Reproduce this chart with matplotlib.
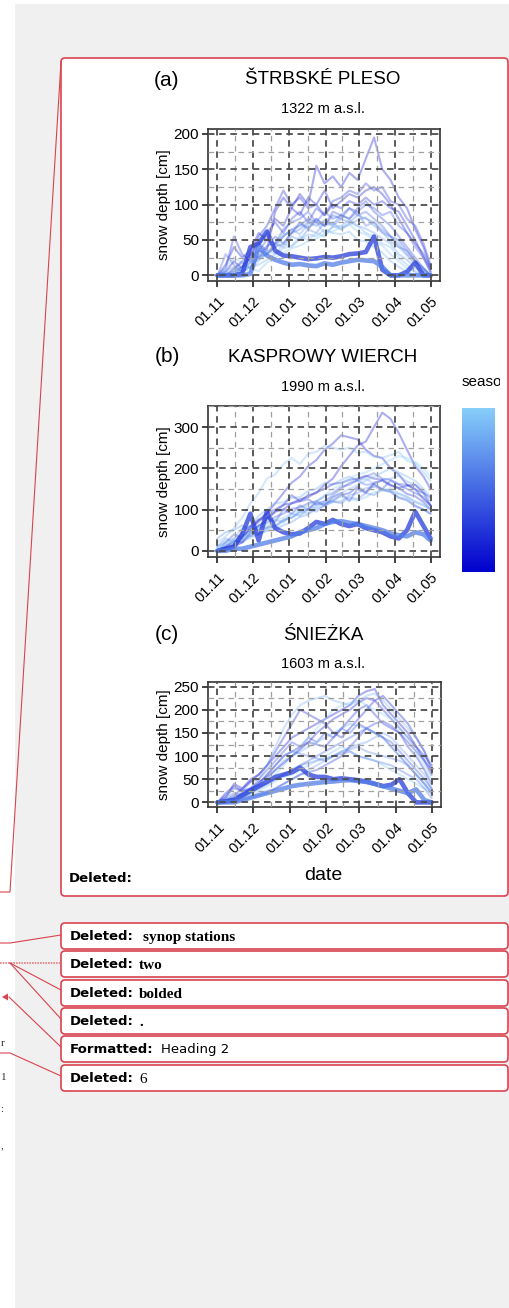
import matplotlib
matplotlib.use('Agg')
import matplotlib.pyplot as plt
from matplotlib.colors import LinearSegmentedColormap, Normalize
from matplotlib.cm import ScalarMappable
from matplotlib.patches import FancyBboxPatch, Rectangle, Polygon
from matplotlib.transforms import Bbox, TransformedBbox
from matplotlib.ticker import MultipleLocator, FixedLocator

plt.rcParams['font.family'] = ['Liberation Sans', 'DejaVu Sans']

# days counted from 1 November
DAYS = [0, 7, 14, 21, 28, 35, 42, 49, 56, 63, 70, 77, 84, 91, 98, 105, 112,
        119, 126, 133, 140, 147, 154, 161, 168, 175, 181]
MONTH_DAYS = [0, 30, 61, 92, 120, 151, 181]
MONTH_LABELS = ['01.11', '01.12', '01.01', '01.02', '01.03', '01.04', '01.05']

STATIONS = ['ŠTRBSKÉ PLESO', 'KASPROWY WIERCH', 'ŚNIEŻKA']
ALTITUDES = ['1322 m a.s.l.', '1990 m a.s.l.', '1603 m a.s.l.']
TAGS = ['(a)', '(b)', '(c)']

# (a) Štrbské Pleso
SEASONS_A = [2001, 2003, 2005, 2008, 2009, 2011, 2014, 2015, 2017, 2019,
             2002, 2007, 2013, 2018]
DEPTH_A = [
    [0, 5, 20, 10, 30, 45, 35, 90, 110, 95, 115, 100, 155, 130, 140, 125, 145, 135, 165, 195, 150, 135, 110, 95, 65, 40, 10],
    [0, 0, 5, 12, 25, 55, 70, 95, 120, 100, 110, 95, 100, 85, 100, 95, 105, 100, 110, 100, 105, 95, 90, 70, 50, 25, 5],
    [0, 10, 55, 30, 20, 45, 60, 75, 60, 80, 90, 75, 95, 85, 105, 110, 120, 115, 130, 120, 125, 105, 100, 80, 70, 45, 15],
    [0, 0, 0, 12, 25, 35, 50, 45, 65, 75, 80, 90, 75, 70, 85, 80, 95, 90, 100, 95, 85, 90, 70, 60, 40, 25, 5],
    [0, 30, 15, 5, 12, 25, 30, 45, 55, 65, 70, 80, 75, 90, 80, 85, 95, 85, 90, 80, 70, 55, 50, 35, 20, 10, 0],
    [0, 0, 8, 18, 10, 28, 30, 40, 45, 60, 65, 75, 70, 78, 72, 85, 80, 90, 70, 75, 60, 55, 40, 35, 20, 8, 0],
    [0, 0, 0, 5, 18, 22, 30, 40, 55, 65, 58, 72, 80, 70, 75, 65, 72, 78, 82, 70, 62, 48, 40, 28, 15, 5, 0],
    [0, 6, 12, 5, 18, 30, 42, 45, 58, 60, 72, 68, 75, 60, 68, 70, 78, 70, 66, 60, 52, 45, 30, 22, 10, 5, 0],
    [0, 0, 0, 6, 12, 15, 22, 30, 38, 42, 50, 58, 55, 65, 60, 58, 62, 50, 48, 40, 32, 20, 12, 5, 0, 0, 0],
    [0, 10, 25, 18, 10, 6, 18, 25, 32, 38, 42, 48, 52, 58, 62, 68, 72, 62, 58, 50, 42, 30, 20, 10, 5, 0, 0],
    [0, 15, 40, 25, 35, 60, 50, 80, 70, 95, 85, 110, 100, 120, 95, 105, 115, 110, 120, 125, 115, 100, 80, 60, 45, 30, 10],
    [0, 0, 10, 20, 30, 25, 40, 55, 45, 60, 75, 65, 80, 70, 90, 85, 80, 95, 105, 90, 80, 70, 55, 40, 25, 10, 0],
    [0, 5, 0, 10, 20, 35, 30, 45, 40, 55, 50, 65, 60, 75, 70, 80, 75, 85, 80, 75, 65, 55, 45, 30, 20, 10, 0],
    [0, 0, 5, 10, 5, 20, 35, 30, 45, 40, 55, 50, 60, 55, 70, 65, 75, 70, 60, 55, 45, 40, 25, 15, 5, 0, 0],
]
BOLD_SEASONS_A = [2006, 2012]
BOLD_DEPTH_A = [
    [0, 0, 0, 2, 40, 45, 62, 35, 28, 27, 25, 23, 24, 26, 25, 27, 30, 31, 33, 55, 8, 0, 0, 5, 18, 0, 0],
    [0, 0, 0, 0, 2, 40, 28, 22, 18, 15, 16, 14, 13, 17, 15, 18, 20, 22, 21, 20, 12, 0, 0, 0, 0, 0, 0],
]

# (b) Kasprowy Wierch
SEASONS_B = [2001, 2002, 2018, 2016, 2004, 2010, 2014, 2008, 2019, 2003,
             2007, 2013, 2017, 2020]
DEPTH_B = [
    [0, 10, 25, 20, 45, 60, 75, 95, 100, 115, 120, 135, 140, 160, 175, 205, 230, 255, 265, 300, 335, 320, 285, 245, 205, 180, 150],
    [0, 8, 15, 35, 50, 75, 90, 115, 140, 165, 180, 205, 220, 245, 260, 280, 275, 270, 245, 230, 225, 200, 185, 160, 150, 125, 110],
    [20, 35, 55, 80, 115, 140, 175, 185, 210, 225, 210, 235, 240, 255, 250, 245, 250, 238, 240, 228, 225, 232, 240, 218, 212, 190, 170],
    [10, 22, 30, 55, 60, 85, 100, 115, 118, 128, 130, 145, 150, 165, 160, 172, 180, 170, 175, 162, 172, 175, 182, 168, 160, 145, 120],
    [0, 12, 20, 45, 60, 75, 80, 95, 110, 135, 120, 125, 112, 115, 122, 135, 140, 155, 142, 165, 170, 158, 152, 138, 132, 118, 100],
    [0, 0, 12, 20, 35, 40, 55, 60, 75, 80, 95, 100, 115, 120, 135, 150, 165, 170, 160, 162, 148, 142, 128, 122, 108, 100, 90],
    [30, 45, 50, 62, 48, 40, 48, 52, 62, 70, 82, 88, 102, 110, 118, 120, 135, 140, 152, 155, 148, 145, 138, 130, 118, 110, 100],
    [0, 0, 8, 22, 40, 62, 68, 82, 90, 102, 105, 115, 120, 132, 140, 155, 160, 172, 180, 188, 175, 172, 162, 160, 148, 140, 130],
    [10, 18, 20, 28, 30, 42, 50, 62, 70, 82, 90, 102, 105, 115, 120, 132, 125, 122, 130, 142, 145, 152, 140, 132, 120, 112, 100],
    [0, 5, 12, 30, 55, 70, 92, 100, 112, 115, 125, 130, 142, 150, 162, 165, 172, 175, 182, 175, 172, 160, 152, 158, 160, 140, 110],
    [0, 20, 40, 30, 60, 50, 80, 70, 100, 90, 110, 100, 120, 110, 130, 140, 120, 150, 140, 160, 150, 170, 160, 150, 140, 130, 110],
    [10, 30, 20, 40, 35, 60, 55, 75, 70, 90, 85, 100, 95, 110, 120, 115, 130, 125, 140, 135, 150, 145, 130, 125, 110, 100, 90],
    [0, 10, 30, 25, 45, 40, 60, 55, 75, 80, 95, 90, 110, 120, 130, 140, 150, 160, 170, 180, 190, 200, 190, 180, 170, 150, 130],
    [5, 15, 25, 30, 45, 55, 65, 75, 80, 90, 100, 110, 120, 135, 150, 160, 175, 185, 190, 200, 210, 220, 230, 225, 215, 200, 180],
]
BOLD_SEASONS_B = [2006, 2012]
BOLD_DEPTH_B = [
    [0, 5, 10, 40, 90, 25, 95, 55, 45, 40, 42, 55, 70, 65, 75, 65, 60, 65, 55, 50, 45, 35, 30, 50, 95, 60, 30],
    [0, 0, 5, 5, 10, 15, 20, 25, 30, 35, 45, 50, 55, 65, 70, 72, 68, 65, 60, 55, 50, 42, 38, 35, 45, 40, 25],
]

# (c) Śnieżka
SEASONS_C = [2001, 2003, 2017, 2004, 2009, 2013, 2015, 2019, 2011, 2005,
             2007, 2016, 2020, 2002]
DEPTH_C = [
    [0, 10, 40, 30, 50, 60, 80, 100, 120, 140, 150, 160, 170, 180, 190, 200, 210, 230, 240, 245, 210, 190, 170, 150, 120, 90, 60],
    [0, 5, 15, 30, 45, 60, 80, 110, 140, 170, 200, 190, 180, 170, 150, 140, 160, 180, 200, 220, 200, 180, 160, 140, 120, 100, 80],
    [0, 5, 10, 20, 30, 50, 80, 120, 160, 190, 210, 220, 225, 230, 220, 215, 210, 220, 230, 235, 220, 200, 180, 160, 140, 110, 80],
    [0, 5, 10, 20, 30, 40, 60, 80, 100, 110, 120, 130, 125, 120, 140, 160, 180, 200, 210, 190, 170, 160, 150, 120, 100, 70, 40],
    [0, 0, 5, 10, 20, 30, 40, 50, 60, 70, 80, 90, 100, 110, 120, 130, 140, 150, 160, 150, 140, 120, 100, 80, 60, 40, 20],
    [0, 5, 10, 20, 30, 35, 40, 50, 60, 70, 80, 85, 90, 95, 100, 110, 115, 120, 110, 105, 100, 95, 90, 80, 60, 40, 20],
    [0, 0, 5, 10, 15, 20, 25, 30, 40, 50, 60, 70, 80, 90, 100, 110, 120, 125, 130, 140, 150, 140, 120, 100, 80, 60, 30],
    [0, 5, 10, 15, 20, 25, 35, 45, 55, 60, 70, 80, 90, 100, 110, 120, 110, 100, 95, 90, 80, 70, 60, 50, 40, 30, 20],
    [0, 10, 20, 15, 25, 40, 60, 80, 100, 110, 105, 100, 95, 90, 100, 105, 110, 100, 95, 90, 85, 80, 70, 60, 50, 30, 10],
    [0, 0, 0, 5, 10, 15, 20, 30, 40, 50, 60, 65, 70, 80, 90, 100, 120, 140, 160, 170, 175, 165, 150, 130, 110, 90, 70],
    [0, 15, 30, 25, 45, 50, 70, 90, 110, 130, 120, 140, 130, 150, 140, 160, 150, 170, 160, 150, 140, 130, 110, 90, 70, 50, 30],
    [0, 5, 10, 15, 25, 35, 50, 70, 90, 100, 110, 120, 130, 140, 150, 160, 170, 165, 160, 150, 140, 120, 100, 80, 60, 40, 25],
    [0, 0, 5, 10, 20, 30, 40, 60, 80, 100, 120, 140, 160, 180, 200, 210, 215, 220, 210, 200, 190, 180, 160, 140, 110, 80, 50],
    [0, 20, 35, 25, 30, 45, 55, 70, 85, 100, 115, 130, 150, 165, 180, 190, 200, 215, 225, 220, 230, 210, 190, 170, 140, 110, 70],
]
BOLD_SEASONS_C = [2006, 2012]
BOLD_DEPTH_C = [
    [0, 2, 5, 15, 25, 35, 45, 55, 60, 65, 75, 60, 55, 55, 50, 52, 50, 48, 45, 40, 35, 38, 50, 20, 0, 0, 0],
    [0, 0, 0, 5, 10, 15, 20, 25, 30, 35, 38, 40, 42, 44, 45, 47, 48, 46, 44, 40, 35, 30, 25, 20, 28, 5, 0],
]

# markup pane notes
NOTE_KINDS = ['Deleted:', 'Deleted:', 'Deleted:', 'Deleted:', 'Formatted:', 'Deleted:']
NOTE_TEXTS = ['synop stations', 'two', 'bolded', '.', 'Heading 2', '6']

W, H = 510, 1308
RED = '#d9434f'

cmap = LinearSegmentedColormap.from_list('season', ['#0000cd', '#87cefa'])
norm = Normalize(2000, 2020)


def px_axes(fig, left, top, right, bottom):
    return fig.add_axes([left / W, 1 - bottom / H, (right - left) / W, (bottom - top) / H])


def draw_panel(ax, seasons, depth, bold_seasons, bold_depth, ylim, ystep):
    for s, d in zip(seasons, depth):
        ax.plot(DAYS, d, color=cmap(norm(s)), lw=1.5, alpha=0.33,
                solid_joinstyle='round', zorder=2)
    for s, d in zip(bold_seasons, bold_depth):
        ax.plot(DAYS, d, color=cmap(norm(s)), lw=3.3, alpha=0.75,
                solid_joinstyle='round', solid_capstyle='round', zorder=2.1)
    ax.set_xlim(-8, 189)
    ax.set_ylim(*ylim)
    ax.yaxis.set_major_locator(MultipleLocator(ystep))
    ax.yaxis.set_minor_locator(MultipleLocator(ystep / 2))
    mids = [(a + b) / 2 for a, b in zip(MONTH_DAYS[:-1], MONTH_DAYS[1:])]
    ax.set_xticks(MONTH_DAYS)
    ax.set_xticklabels(MONTH_LABELS, rotation=45, ha='right', va='top',
                       rotation_mode='anchor', fontsize=10.5)
    ax.xaxis.set_minor_locator(FixedLocator(mids))
    ax.tick_params(which='major', length=4.5, width=1.3, color='#333333',
                   labelsize=11, pad=2)
    ax.tick_params(axis='x', labelsize=10.5, pad=5)
    ax.tick_params(which='minor', length=0)
    ax.set_axisbelow(False)
    ax.grid(which='major', color='#4d4d4d', lw=1.3, ls=(0, (3.6, 2.6)))
    ax.grid(which='minor', color='#a0a0a0', lw=0.9, ls=(0, (4.5, 3.5)))
    for sp in ax.spines.values():
        sp.set_color('#333333')
        sp.set_linewidth(1.2)
    ax.set_ylabel('snow depth [cm]', fontsize=11, labelpad=2)


fig = plt.figure(figsize=(W / 100, H / 100), dpi=100, facecolor='white')

# word markup pane background
bg = fig.add_axes([0, 0, 1, 1], zorder=-1)
bg.set_xlim(0, W)
bg.set_ylim(H, 0)
bg.axis('off')
bg.add_patch(Rectangle((15, 4), W - 15, H - 4, color='#f0f0f0', lw=0))

bg.plot([61, 10, 0], [62, 892, 892], color=RED, lw=0.8)
bg.add_patch(FancyBboxPatch((61, 58), 447, 838, boxstyle='round,pad=0,rounding_size=4',
                            fc='white', ec=RED, lw=1.2))
bg.text(69, 879, 'Deleted:', fontsize=9.5, fontweight='bold', family='DejaVu Sans',
        va='center')

note_tops = [923, 951, 980, 1008, 1036, 1065]
note_x = [143, 139, 139, 139, 161, 139]
for i, (kind, txt) in enumerate(zip(NOTE_KINDS, NOTE_TEXTS)):
    top = note_tops[i]
    bg.add_patch(FancyBboxPatch((61, top), 447, 26, boxstyle='round,pad=0,rounding_size=4',
                                fc='white', ec=RED, lw=1.2))
    yc = top + 13.5
    bg.text(70, yc, kind, fontsize=9.5, fontweight='bold', family='DejaVu Sans', va='center')
    if kind == 'Formatted:':
        bg.text(note_x[i], yc, txt, fontsize=9.5, family='DejaVu Sans', va='center')
    elif txt == '6':
        bg.text(note_x[i], yc + 1, txt, fontsize=11, family='Liberation Serif', va='center')
    else:
        bg.text(note_x[i], yc + 1, txt, fontsize=11, fontweight='bold',
                family='Liberation Serif', va='center')

# connector lines to the notes
bg.plot([0, 10, 61], [943, 943, 935], color=RED, lw=0.8)
bg.plot([0, 61], [963, 963], color='#e07f88', lw=1.2, ls=(0, (1, 0.6)))
bg.plot([10, 61], [963, 990], color=RED, lw=0.8)
bg.plot([10, 61], [963, 1019], color=RED, lw=0.8)
bg.plot([9, 61], [997, 1047], color=RED, lw=0.8)
bg.add_patch(Polygon([[2, 997], [8, 993.5], [8, 1000.5]], closed=True, color=RED, lw=0))
bg.plot([0, 10, 61], [1053, 1053, 1076], color=RED, lw=0.8)
# fragments of the document text at the left edge
for ch, yy in zip(['r', '1', ':', ','], [1044, 1078, 1110, 1146]):
    bg.text(0.5, yy, ch, fontsize=8, family='Liberation Serif', ha='left', va='center',
            color='#333333')

# chart panels
ax_a = px_axes(fig, 208, 129, 440, 281)
draw_panel(ax_a, SEASONS_A, DEPTH_A, BOLD_SEASONS_A, BOLD_DEPTH_A, (-8, 207), 50)
ax_b = px_axes(fig, 208, 406, 440, 557)
draw_panel(ax_b, SEASONS_B, DEPTH_B, BOLD_SEASONS_B, BOLD_DEPTH_B, (-15, 351), 100)
ax_c = px_axes(fig, 208, 682, 441, 807)
draw_panel(ax_c, SEASONS_C, DEPTH_C, BOLD_SEASONS_C, BOLD_DEPTH_C, (-10, 260), 50)

for tag, name, alt, ytitle, ysub in zip(TAGS, STATIONS, ALTITUDES, [80, 357, 635], [109, 387, 664]):
    fig.text(167 / W, 1 - ytitle / H, tag, fontsize=15, ha='center', va='center')
    fig.text(323 / W, 1 - ytitle / H, name, fontsize=13.5, ha='center', va='center')
    fig.text(323 / W, 1 - ysub / H, alt, fontsize=10.5, ha='center', va='center')

fig.text(323 / W, 1 - 875 / H, 'date', fontsize=14, ha='center', va='center')

# season colour bar (cut by the image edge)
cax = px_axes(fig, 462, 408, 495, 572)
cb = fig.colorbar(ScalarMappable(norm=norm, cmap=cmap), cax=cax)
cb.outline.set_visible(False)
cb.set_ticks([])
lab = fig.text(462 / W, 1 - 382 / H, 'season', fontsize=11, ha='left', va='center')
lab.set_clip_box(TransformedBbox(Bbox([[0, 0], [500 / W, 1]]), fig.transFigure))
lab.set_clip_on(True)

fig.savefig('out.png', dpi=100, facecolor='white')
